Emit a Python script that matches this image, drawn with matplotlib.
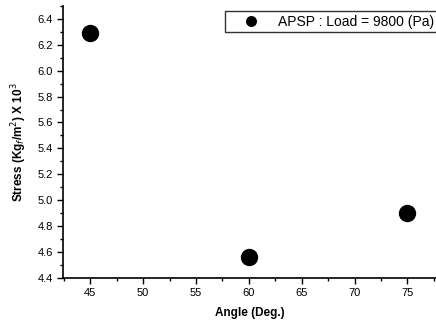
import numpy as np
import matplotlib
matplotlib.use('Agg')
import matplotlib.pyplot as plt
import matplotlib.ticker as ticker

plt.rcParams['font.family'] = ['Liberation Sans', 'DejaVu Sans']

angles = [45, 60, 75]
stress = [6.29, 4.56, 4.90]
series_label = 'APSP : Load = 9800 (Pa)'
x_label = 'Angle (Deg.)'
y_label = r'Stress (Kg$_f$/m$^2$) X 10$^3$'

fig = plt.figure(figsize=(4.36, 3.27), dpi=100)
ax = fig.add_axes([0.145, 0.15, 0.855, 0.832])

ax.plot(angles, stress, 'o', color='black', markersize=11.5, label=series_label)

ax.set_xlim(42.45, 77.7)
ax.set_ylim(4.4, 6.5)
ax.xaxis.set_major_locator(ticker.MultipleLocator(5))
ax.xaxis.set_minor_locator(ticker.MultipleLocator(2.5))
ax.yaxis.set_major_locator(ticker.MultipleLocator(0.2))
ax.yaxis.set_minor_locator(ticker.MultipleLocator(0.1))
ax.yaxis.set_major_formatter(ticker.FormatStrFormatter('%.1f'))

for s in ['top', 'right']:
    ax.spines[s].set_visible(False)
ax.spines['left'].set_linewidth(1.2)
ax.spines['bottom'].set_linewidth(1.2)

ax.tick_params(which='major', direction='out', length=4, width=1, labelsize=8)
ax.tick_params(which='minor', direction='out', length=2, width=1)

ax.set_xlabel(x_label, fontsize=8.5, fontweight='bold', labelpad=6)
ax.set_ylabel(y_label, fontsize=8.5, fontweight='bold', labelpad=6)

leg = ax.legend(loc='upper right', bbox_to_anchor=(1.003, 0.98), fontsize=10,
                frameon=True, fancybox=False, edgecolor='black',
                handlelength=3.2, handletextpad=0.3, borderpad=0.25,
                markerscale=0.6, borderaxespad=0.0)
leg.get_frame().set_linewidth(1.0)

fig.savefig('out.png', dpi=100)
